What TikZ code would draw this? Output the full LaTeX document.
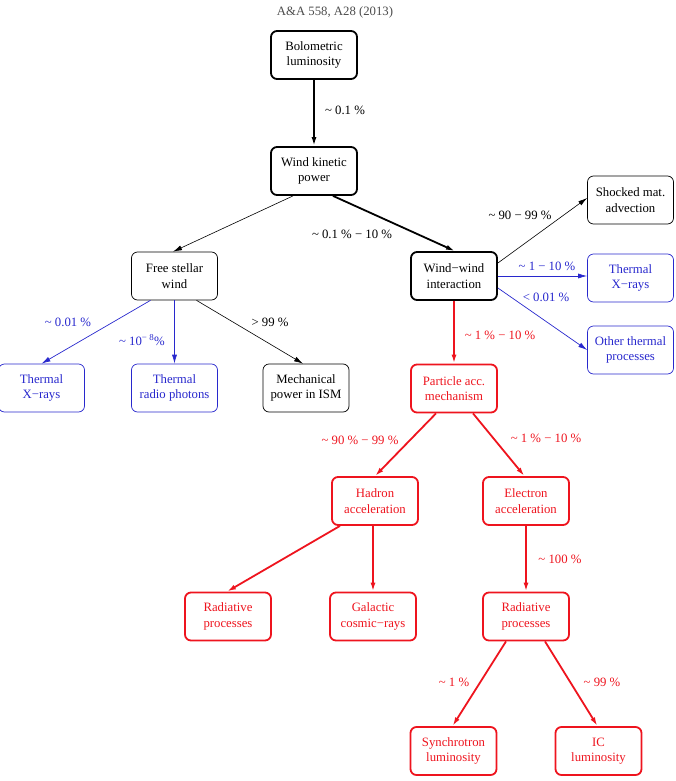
\documentclass[tikz,border=0pt]{standalone}
\usepackage{fontspec}
\setmainfont{Liberation Serif}
\usetikzlibrary{arrows.meta}
\definecolor{bl}{RGB}{40,40,205}
\definecolor{rd}{RGB}{238,20,30}
\begin{document}
\begin{tikzpicture}[x=1bp,y=-1bp,
  font=\fontsize{12.8}{15.5}\selectfont,
  box/.style={draw,rectangle,rounded corners=6bp,minimum width=86bp,minimum height=48bp,align=center,inner sep=0pt},
  kbox/.style={box,line width=1.8bp},
  tbox/.style={box,line width=0.7bp},
  rbox/.style={box,draw=rd,text=rd,line width=1.8bp},
  bbox/.style={box,draw=bl,text=bl,line width=0.7bp},
  tip/.style={-{Latex[length=9bp,width=5bp]}},
  karr/.style={tip,line width=1.8bp},
  tarr/.style={tip,line width=0.6bp},
  rarr/.style={tip,draw=rd,line width=1.8bp},
  barr/.style={tip,draw=bl,line width=0.7bp},
  lab/.style={inner sep=0pt},
  rlab/.style={lab,text=rd},
  blab/.style={lab,text=bl}]
\useasboundingbox (0,0) rectangle (676,781);
\node[lab,text=black!70] (hdr) at (335,12) {A\&A 558, A28 (2013)};
% black part
\node[kbox] (bol) at (314,55) {Bolometric\\luminosity};
\node[kbox] (wk) at (314,171) {Wind kinetic\\power};
\node[tbox] (fsw) at (174.5,276) {Free stellar\\wind};
\node[kbox] (ww) at (454,276) {Wind−wind\\interaction};
\node[tbox] (sh) at (630.5,200) {Shocked mat.\\advection};
\node[bbox] (thxr) at (630.5,278) {Thermal\\X−rays};
\node[bbox] (oth) at (630.5,350) {Other thermal\\processes};
\node[bbox] (thxl) at (41.5,388) {Thermal\\X−rays};
\node[bbox] (trp) at (174.5,388) {Thermal\\radio photons};
\node[tbox] (mech) at (306,388) {Mechanical\\power in ISM};
% red part
\node[rbox] (pam) at (454,388.5) {Particle acc.\\mechanism};
\node[rbox] (had) at (375,501) {Hadron\\acceleration};
\node[rbox] (ele) at (526,501) {Electron\\acceleration};
\node[rbox] (rad1) at (228,616.5) {Radiative\\processes};
\node[rbox] (gcr) at (373,616.5) {Galactic\\cosmic−rays};
\node[rbox] (rad2) at (526,616.5) {Radiative\\processes};
\node[rbox] (syn) at (453.5,751) {Synchrotron\\luminosity};
\node[rbox] (ic) at (598.5,751) {IC\\luminosity};
% connectors
\draw[karr] (bol.south) -- (wk.north);
\draw[tarr] ([xshift=-21bp]wk.south) -- ([xshift=-1.5bp]fsw.north);
\draw[karr] ([xshift=19bp]wk.south) -- ([xshift=1bp]ww.north);
\draw[tarr] ([yshift=13bp]ww.east) -- ([yshift=2bp]sh.west);
\draw[barr] (ww.east) -- (ww.east -| thxr.west);
\draw[barr] ([yshift=-12bp]ww.east) -- (oth.west);
\draw[rarr] (ww.south) -- (pam.north);
\draw[barr] ([xshift=-24bp]fsw.south) -- (thxl.north);
\draw[barr] (fsw.south) -- (trp.north);
\draw[tarr] ([xshift=22bp]fsw.south) -- ([xshift=-3bp]mech.north);
\draw[rarr] ([xshift=-18bp]pam.south) -- (had.north);
\draw[rarr] ([xshift=19bp]pam.south) -- ([xshift=-1.5bp]ele.north);
\draw[rarr] ([xshift=-35bp]had.south) -- ([xshift=-1bp]rad1.north);
\draw[rarr] ([xshift=-2bp]had.south) -- ([xshift=-2bp]had.south |- gcr.north);
\draw[rarr] (ele.south) -- (rad2.north);
\draw[rarr] ([xshift=-20bp]rad2.south) -- ([xshift=-1bp]syn.north);
\draw[rarr] ([xshift=19bp]rad2.south) -- ([xshift=-1bp]ic.north);
% labels
\node[lab] (l1) at (345,110) {\textasciitilde{} 0.1 \%};
\node[lab] (l2) at (352,234) {\textasciitilde{} 0.1 \% − 10 \%};
\node[lab] (l3) at (520,215) {\textasciitilde{} 90 − 99 \%};
\node[blab] (l4) at (547,266) {\textasciitilde{} 1 − 10 \%};
\node[blab] (l5) at (546,297) {< 0.01 \%};
\node[rlab] (l6) at (500,335) {\textasciitilde{} 1 \% − 10 \%};
\node[blab] (l7) at (68,322) {\textasciitilde{} 0.01 \%};
\node[blab] (l8) at (142,340) {\textasciitilde{} 10\textsuperscript{− 8}\%};
\node[lab] (l9) at (270,322) {> 99 \%};
\node[rlab] (l10) at (360,440) {\textasciitilde{} 90 \% − 99 \%};
\node[rlab] (l11) at (546,438) {\textasciitilde{} 1 \% − 10 \%};
\node[rlab] (l12) at (560,559) {\textasciitilde{} 100 \%};
\node[rlab] (l13) at (454,682) {\textasciitilde{} 1 \%};
\node[rlab] (l14) at (602,682) {\textasciitilde{} 99 \%};
\end{tikzpicture}
\end{document}
